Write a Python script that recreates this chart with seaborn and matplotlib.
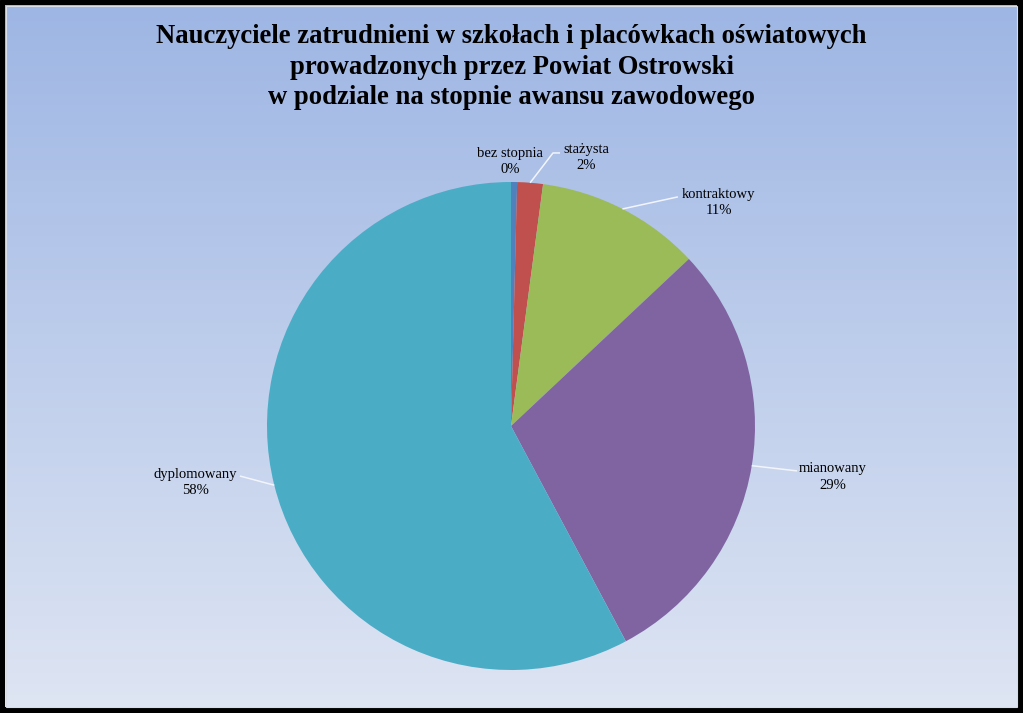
import numpy as np
import matplotlib
matplotlib.use("Agg")
import matplotlib.pyplot as plt
from matplotlib.patches import Rectangle
import seaborn as sns

# --- data -------------------------------------------------------------
categories = ["bez stopnia", "stażysta", "kontraktowy", "mianowany", "dyplomowany"]
shares = [0.4, 1.7, 10.9, 29.2, 57.8]          # percent of teachers
colors = ["#4F81BD", "#C0504D", "#9BBB59", "#8064A2", "#4BACC6"]
title_lines = [
    "Nauczyciele zatrudnieni w szkołach i placówkach oświatowych",
    "prowadzonych przez Powiat Ostrowski",
    "w podziale na stopnie awansu zawodowego",
]

# --- label layout (pie radius = 1, centre at 0,0) ----------------------
# text centre position and leader end point for each slice
label_pos = [(-0.004, 1.084), (0.307, 1.102), (0.852, 0.916), (1.320, -0.209), (-1.295, -0.232)]
leader_end = [None, (0.172, 1.119), (0.684, 0.939), (1.172, -0.184), (-1.111, -0.205)]
leader_knee = [None, (0.201, 1.119), None, None, None]

sns.set_theme(style="white")
plt.rcParams["font.family"] = ["Liberation Serif", "DejaVu Serif"]

W, H = 1023, 713
fig = plt.figure(figsize=(W / 100, H / 100), dpi=100)

# background: black frame with a vertical blue gradient inside
bg = fig.add_axes([0, 0, 1, 1])
bg.set_xlim(0, W)
bg.set_ylim(H, 0)
bg.axis("off")
bg.add_patch(Rectangle((0, 0), W, H, color="black", zorder=0))
top = np.array([158, 182, 228]) / 255
bottom = np.array([222, 229, 243]) / 255
t = np.linspace(0, 1, 256)[:, None, None]
grad = top * (1 - t) + bottom * t
grad = np.repeat(grad, 2, axis=1)
bg.imshow(grad, extent=(5, 1017, 707, 5), aspect="auto", zorder=1,
          interpolation="bilinear")
bg.add_patch(Rectangle((5.5, 5.5), 1011, 701, fill=False,
                       edgecolor="#d8dde6", lw=0.8, zorder=2))

# title
bg.text(511.5, 67, "\n".join(title_lines), ha="center", va="center",
        fontsize=19.2, fontweight="bold", color="black", linespacing=1.27,
        zorder=3)

# pie axes: full figure, 244 px per data unit, centre at (511, 426)
ax = fig.add_axes([0, 0, 1, 1])
ax.patch.set_alpha(0)
R = 244.0
cx, cy = 511.0, 426.0

wedges, _ = ax.pie(shares, colors=colors, startangle=90, counterclock=False,
                   radius=1.0, wedgeprops=dict(linewidth=0))
ax.axis("off")
ax.set_xlim(-cx / R, (W - cx) / R)
ax.set_ylim(-(H - cy) / R, cy / R)

for w, name, val, pos, end, knee in zip(wedges, categories, shares,
                                         label_pos, leader_end, leader_knee):
    mid = np.deg2rad((w.theta1 + w.theta2) / 2)
    sx, sy = np.cos(mid), np.sin(mid)
    if end is not None:
        xs, ys = [sx], [sy]
        xs.append(end[0]); ys.append(end[1])
        if knee is not None:
            xs.append(knee[0]); ys.append(knee[1])
        ax.plot(xs, ys, color="#f2f5fb", lw=1.1, solid_capstyle="butt")
    ax.text(pos[0], pos[1], f"{name}\n{round(val)}%", ha="center",
            va="center", fontsize=10.5, linespacing=1.32, color="black")

fig.savefig("out.png", dpi=100)
